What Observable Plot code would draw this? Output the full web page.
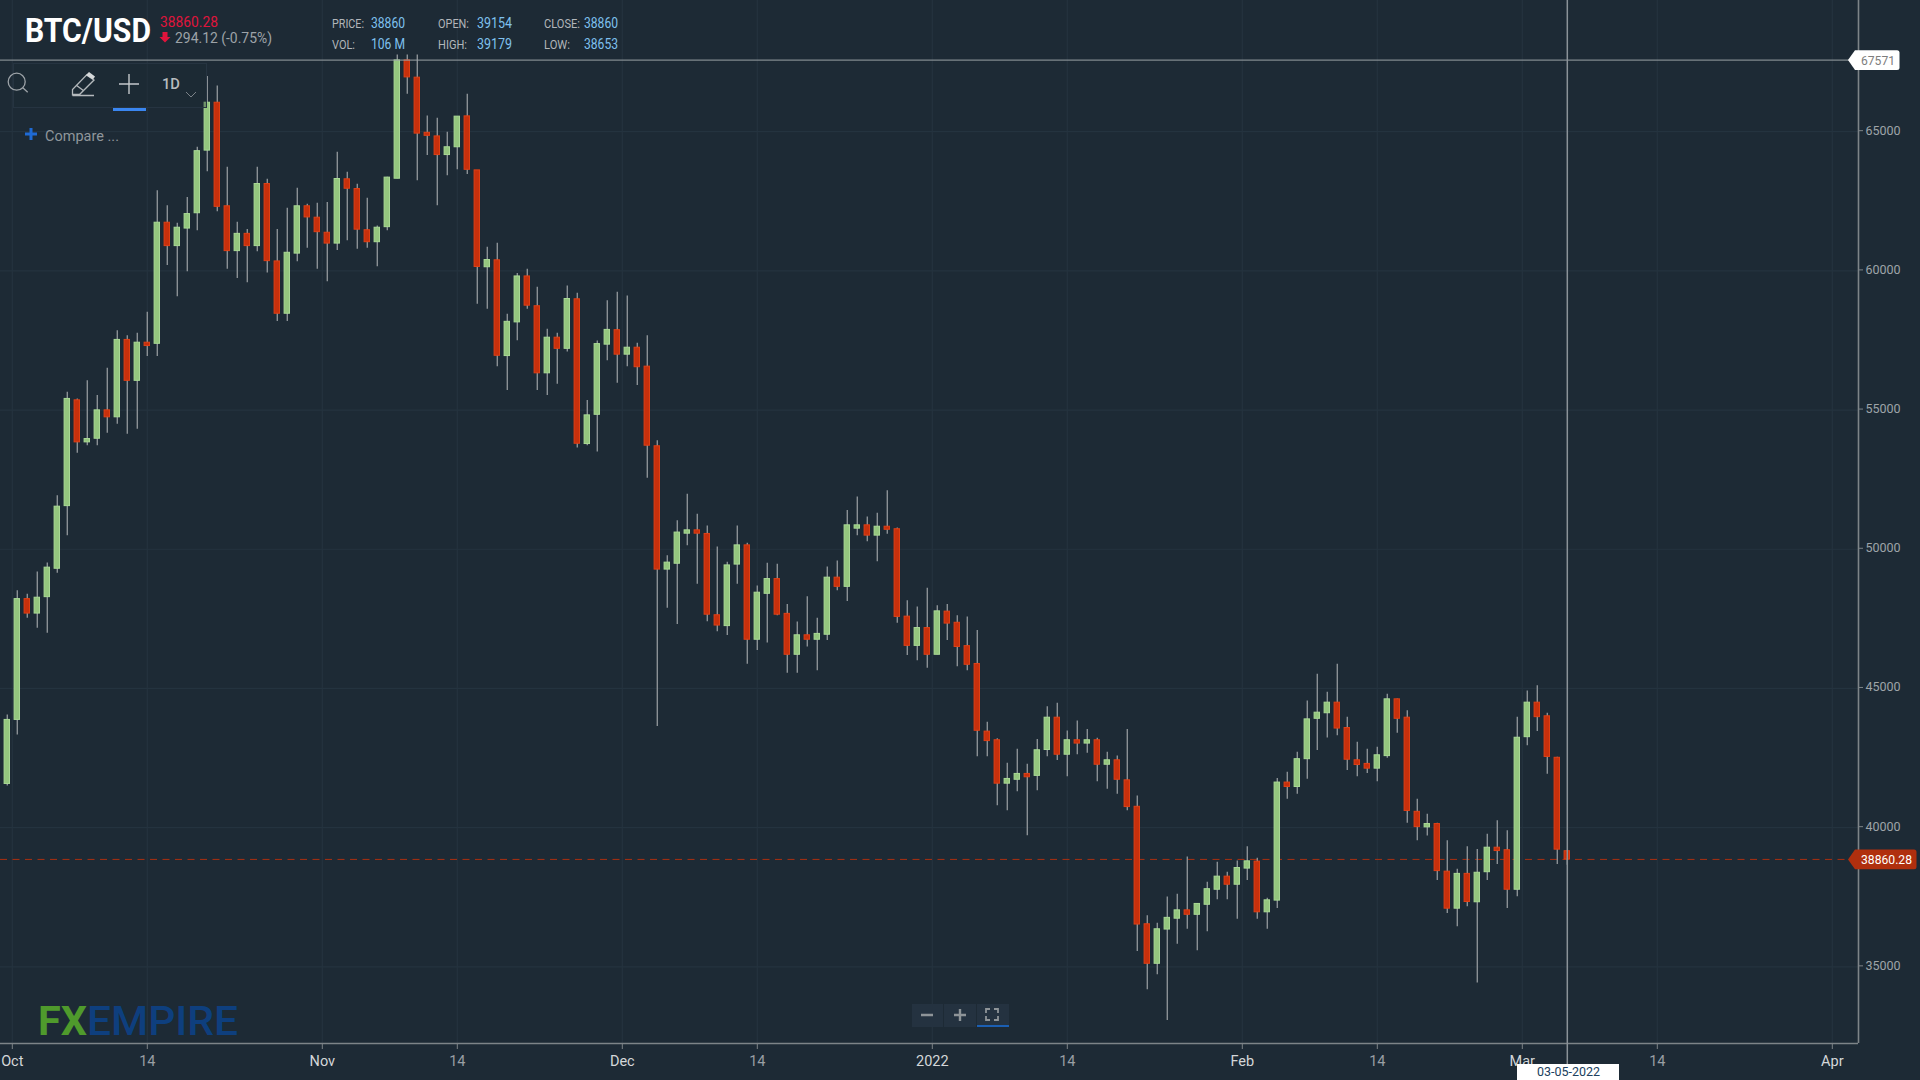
<!DOCTYPE html>
<html><head><meta charset="utf-8">
<style>
html,body{margin:0;padding:0;background:#1d2a35;overflow:hidden}
#wrap{position:relative;width:1920px;height:1080px;font-family:Roboto,sans-serif}
#wrap svg{position:absolute;left:0;top:0;display:block}
#overlay{pointer-events:none}
</style>
<script src="https://cdn.jsdelivr.net/npm/d3@7"></script>
<script src="https://cdn.jsdelivr.net/npm/@observablehq/plot@0.6"></script>
</head><body><div id="wrap"></div>
<script>
const firstDay = "2021-09-30";
const open = [41570,43870,48210,47690,48280,49300,51550,55350,53840,53970,
54990,54740,57520,56050,57420,57380,61730,60890,61520,62070,
64320,66040,62320,60710,61330,60890,63120,60340,58460,60620,
62320,61910,61370,60980,63290,62940,61460,61030,61570,63310,
67560,66940,64960,64830,64160,64440,65550,63610,60130,60380,
56940,58150,59800,58730,56320,57600,57200,58980,53780,54830,
57350,57870,56990,57240,56560,53700,49270,49480,50560,50680,
50550,47630,47240,49450,50140,46750,48400,48930,47680,46210,
46910,46750,46930,48980,48650,50740,50860,50490,50810,50720,
47580,46530,47170,46210,47760,47360,46520,45880,43450,43140,
41580,41720,41930,41860,42790,43950,42620,43140,43020,43140,
42260,42420,41700,40750,36530,35110,36340,36730,37030,36870,
37230,37770,38240,37950,38530,38780,36960,37380,41620,41460,
42460,43910,44110,44490,43580,42420,42290,42120,42570,44610,
43950,40570,40010,40130,38420,37090,38340,37320,38400,39280,
39190,37770,43250,44490,44000,42510,39154];
const high = [44050,48510,48380,49180,49510,51920,55640,55400,56050,55520,
56500,57850,57670,57760,58510,62880,62340,61710,62640,64440,
66980,66640,63720,61750,61490,63720,63290,61490,62250,62970,
62390,62430,62460,64260,63540,63110,62610,61610,63360,67750,
67750,67750,65560,65480,64980,65540,66340,63610,60850,60990,
58440,59910,60060,59410,57900,57760,59460,59200,55340,57480,
58930,59230,59100,57400,57670,53900,49770,51020,51980,51260,
50840,50080,49530,50840,50220,48680,49500,49460,48020,47390,
48290,47520,49360,49580,51390,51880,51160,51290,52100,50760,
48150,47930,48600,47970,48020,47610,47570,47080,43790,43190,
42310,42820,42280,43170,44340,44470,43470,43830,43530,43210,
42710,42570,43530,41140,36840,36570,37510,37610,38950,37280,
38040,38760,38400,38800,39310,38900,37460,41770,41990,42710,
44550,45510,44860,45870,43970,43070,42820,42890,44790,44620,
44200,41020,40480,40160,39530,38510,39310,39220,39760,40250,
39890,43970,44910,45100,44110,42530,39179];
const low = [41500,43330,47520,47160,46980,49140,50490,53450,53720,53720,
54170,54490,54130,54310,56920,56920,60190,59070,59970,61440,
63560,62120,60060,59730,59570,60690,59920,58180,58180,60330,
60810,60060,59610,60730,61080,60780,60810,60150,61440,63310,
66340,63240,64140,62340,63420,63630,63460,58800,58620,56560,
55700,57490,58620,55700,55520,55930,57090,53640,53720,53490,
56770,55960,56560,55880,52550,43630,47880,47300,50130,48740,
47400,47040,46900,48740,45870,46360,46630,47610,45550,45550,
46490,45640,46720,48510,48120,50490,50270,49550,50540,47340,
46180,46000,45730,46210,46720,45780,45640,42550,42550,40790,
40610,41290,39710,41330,42550,42410,41830,42620,42670,41650,
41380,41200,40610,35550,34180,34720,33070,35810,36350,35580,
36260,37410,37410,36710,38100,36710,36350,37100,41020,41200,
41740,42770,43220,43300,42050,41830,41950,41650,42490,43390,
40160,39530,39700,38100,36920,36440,37160,34420,38100,38680,
37100,37520,42940,43450,41920,38680,38653];
const close = [43870,48210,47690,48260,49340,51530,55400,53840,53960,54990,
54740,57520,56050,57420,57300,61730,60890,61550,62040,64300,
66040,62300,60710,61330,60890,63120,60350,58460,60650,62320,
61920,61390,60980,63300,62950,61480,61030,61550,63350,67560,
66950,64930,64850,64160,64440,65540,63630,60140,60390,56950,
58170,59800,58750,56320,57600,57200,58990,53790,54810,57370,
57880,56990,57240,56540,53720,49270,49520,50600,50680,50560,
47650,47260,49420,50140,46750,48440,48930,47650,46210,46910,
46750,46960,48980,48650,50860,50860,50490,50810,50700,47570,
46530,47170,46210,47770,47330,46490,45850,43480,43110,41580,
41750,41930,41810,42780,43950,42620,43140,43020,43140,42260,
42420,41720,40740,36520,35110,36350,36760,37030,36870,37260,
37790,38240,37950,38550,38790,36960,37390,41620,41460,42460,
43890,44130,44490,43560,42440,42250,42120,42600,44610,43910,
40600,40020,40130,38440,37090,38340,37330,38380,39280,39160,
37770,43230,44490,43970,42540,39210,38860];

const monthTicks = ["2021-10-01","2021-11-01","2021-12-01","2022-01-01","2022-02-01","2022-03-01","2022-04-01"].map(s=>new Date(s+"T00:00Z"));
const monthLabels = ["Oct","Nov","Dec","2022","Feb","Mar","Apr"];
const dayTicks = ["2021-10-14","2021-11-14","2021-12-14","2022-01-14","2022-02-14","2022-03-14"].map(s=>new Date(s+"T12:00Z"));
const priceTicks = [35000,40000,45000,50000,55000,60000,65000];
const crossPrice = 67571;
const lastPrice = 38860.28;
const crossDate = new Date("2022-03-05T12:00Z");

const hour = 3600e3;
const day0 = new Date(firstDay+"T12:00Z").getTime();
const rows = open.map((o,i)=>({date:new Date(day0+i*24*hour),open:o,high:high[i],low:low[i],close:close[i]}));
const up = rows.filter(d=>d.close>=d.open), down = rows.filter(d=>d.close<d.open);
const left = d=>new Date(d.date.getTime()-6.5*hour), right = d=>new Date(d.date.getTime()+6.5*hour);
const monthName = new Map(monthTicks.map((t,i)=>[+t,monthLabels[i]]));

const plot = Plot.plot({
  width:1920,height:1080,marginLeft:0,marginRight:62,marginTop:0,marginBottom:37,
  style:{background:"#1d2a35",fontFamily:"Roboto,sans-serif"},
  x:{type:"utc",domain:[new Date("2021-09-29T19:41Z"),new Date("2022-04-03T14:53Z")]},
  y:{domain:[32247,69712]},
  marks:[
    Plot.gridX([...monthTicks,...dayTicks],{stroke:"#24333f",strokeOpacity:1,strokeWidth:1.2}),
    Plot.gridY(priceTicks,{stroke:"#24333f",strokeOpacity:1,strokeWidth:1.2}),
    Plot.ruleY([32247],{stroke:"#7d8488",strokeWidth:1.6}),
    Plot.ruleX([new Date("2022-04-03T14:53Z")],{stroke:"#7d8488",strokeWidth:1.6}),
    Plot.axisX(monthTicks,{anchor:"bottom",tickSize:6,tickPadding:6,fontSize:14.5,stroke:"#7d8488",fill:"#d4d7d9",label:null,tickFormat:d=>monthName.get(+d)}),
    Plot.axisX(dayTicks,{anchor:"bottom",tickSize:6,tickPadding:6,fontSize:14.5,stroke:"#7d8488",fill:"#999fa3",label:null,tickFormat:()=>"14"}),
    Plot.axisY(priceTicks,{anchor:"right",tickSize:4,tickPadding:3,fontSize:12.5,dy:-1,stroke:"#7d8488",fill:"#9ea4a8",label:null,tickFormat:d=>String(d)}),
    Plot.ruleY([lastPrice],{stroke:"#ad2f10",strokeWidth:1,strokeDasharray:"7 5.5"}),
    Plot.ruleX(rows,{x:"date",y1:"low",y2:"high",stroke:"#8b9196",strokeWidth:1.4}),
    Plot.rect(up,{x1:left,x2:right,y1:"open",y2:"close",fill:"#94c67e",stroke:"#a9d995",strokeWidth:1}),
    Plot.rect(down,{x1:left,x2:right,y1:"open",y2:"close",fill:"#c8300c",stroke:"#de4016",strokeWidth:1}),
    Plot.ruleY([crossPrice],{stroke:"#9aa2a5",strokeWidth:1}),
    Plot.ruleX([crossDate],{y1:31494,y2:69712,stroke:"#8a9298",strokeWidth:1.5})
  ]
});
const wrap = document.getElementById("wrap");
wrap.appendChild(plot);
const yScale = plot.scale("y").apply;
const yCross = yScale(crossPrice)+0.5, yLast = yScale(lastPrice)+0.5;
const narrow = `font-family="'Liberation Sans Narrow',Roboto,sans-serif"`;
const t = (x,y,w,s,fill,size,weight=400,extra="")=>`<text x="${x}" y="${y}" textLength="${w}" lengthAdjust="spacingAndGlyphs" fill="${fill}" font-size="${size}" font-weight="${weight}" ${extra}>${s}</text>`;
const lab="#b2b6ba", val="#7fc1ef";
wrap.insertAdjacentHTML("beforeend",`<svg id="overlay" width="1920" height="1080" font-family="Roboto,sans-serif">
${t(25,42,126,"BTC/USD","#ffffff",33,700,narrow)}
${t(160,26.5,58,"38860.28","#e0143c",15.5,400,narrow)}
<path d="M162.5 32h5v5h3l-5.5 5.5-5.5-5.5h3z" fill="#e0143c"/>
${t(175,42.5,97,"294.12 (-0.75%)","#9da3a8",15.5,400,narrow)}
${t(332,28,32,"PRICE:",lab,13.5,400,narrow)}${t(371,28,34,"38860",val,14,400,narrow)}
${t(332,49,23,"VOL:",lab,13.5,400,narrow)}${t(371,49,34,"106 M",val,14,400,narrow)}
${t(438,28,31,"OPEN:",lab,13.5,400,narrow)}${t(477,28,35,"39154",val,14,400,narrow)}
${t(438,49,29,"HIGH:",lab,13.5,400,narrow)}${t(477,49,35,"39179",val,14,400,narrow)}
${t(544,28,36,"CLOSE:",lab,13.5,400,narrow)}${t(584,28,34,"38860",val,14,400,narrow)}
${t(544,49,26,"LOW:",lab,13.5,400,narrow)}${t(584,49,34,"38653",val,14,400,narrow)}
<rect x="13.5" y="63.5" width="193" height="44" fill="#1d2a35" fill-opacity=".35" stroke="#263441"/>
<circle cx="16.7" cy="81.7" r="8.5" fill="none" stroke="#9da3a8" stroke-width="1.3"/>
<path d="M22.8 87.8L27.7 92.3" stroke="#9da3a8" stroke-width="1.3"/>
<path d="M72.5 95.5v-6l14-14.5 7.5 5-14.5 14.5h-7zM72.5 95.5h21.5M76 85l8 6" fill="none" stroke="#b4b9bc" stroke-width="1.3"/>
<path d="M86 75l3-3 6 4.5-2 3z" fill="#d5d8da"/>
<path d="M119 84h20M129 74v20" stroke="#c4c8cb" stroke-width="1.4"/>
<rect x="113" y="108" width="33" height="3" fill="#3a86f0"/>
${t(162,89,18,"1D","#b8bcbf",15,500)}
<path d="M186 92l5 5 5-5" fill="none" stroke="#7b8288" stroke-width="1"/>
<path d="M25 134h12M31 128v12" stroke="#1f6ad4" stroke-width="3"/>
${t(45,141,74,"Compare ...","#8f969b",14.5)}
${t(38,1034.5,49,"FX","#4f9a2c",40,700)}
${t(87,1034.5,151,"EMPIRE","#0e3f7e",40,500)}
<rect x="912" y="1004" width="31" height="23" fill="#243240"/><rect x="944" y="1004" width="32" height="23" fill="#243240"/><rect x="977" y="1004" width="32" height="23" fill="#243240"/>
<rect x="977" y="1025" width="32" height="2" fill="#1b5fb3"/>
<path d="M921 1015h12M954 1015h12M960 1009v12" stroke="#8e9498" stroke-width="2.4"/>
<path d="M986 1013v-4h4M994 1009h4v4M998 1016v4h-4M990 1020h-4v-4" fill="none" stroke="#8e9498" stroke-width="1.8"/>
<path d="M1848 ${yCross}l7 -9.8h42a2.5 2.5 0 0 1 2.5 2.5v14.6a2.5 2.5 0 0 1 -2.5 2.5h-42z" fill="#ffffff"/>
${t(1861,yCross+4.5,34,String(crossPrice),"#7d7d7d",12.5)}
<path d="M1848 ${yLast}l7 -9.8h59a2.5 2.5 0 0 1 2.5 2.5v14.6a2.5 2.5 0 0 1 -2.5 2.5h-59z" fill="#b02f0e"/>
${t(1861,yLast+4.5,51,String(lastPrice),"#ffffff",13)}
<rect x="1517" y="1064" width="102" height="16" fill="#ffffff"/>
${t(1537,1076,63,"03-05-2022","#20405e",13)}
</svg>`);
</script></body></html>
